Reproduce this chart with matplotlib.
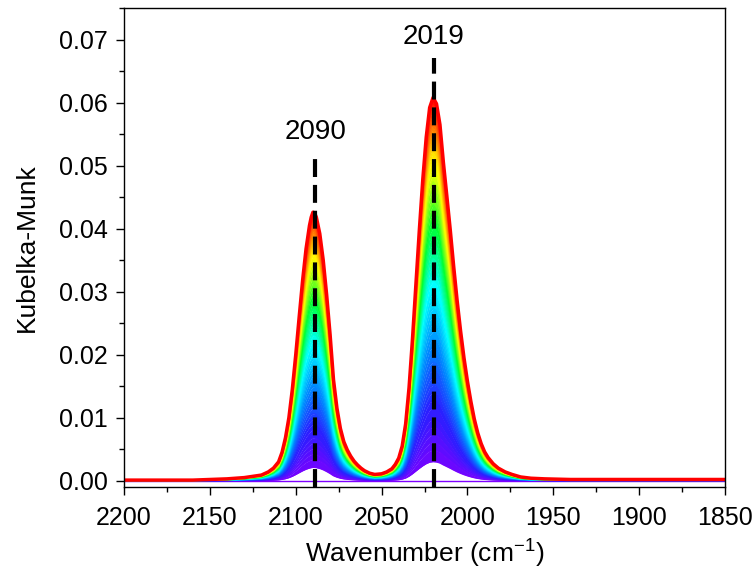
import numpy as np
import matplotlib
matplotlib.use("Agg")
import matplotlib.pyplot as plt
from matplotlib.colors import LinearSegmentedColormap
from matplotlib.ticker import MultipleLocator, FormatStrFormatter

# final (most intense) spectrum
wavenumber = [2200, 2180, 2160, 2150, 2140, 2130, 2125, 2120, 2116, 2113,
              2110, 2108, 2106, 2104, 2102, 2100, 2098, 2096, 2094, 2092,
              2091, 2090, 2089, 2088, 2086, 2084, 2082, 2080, 2078, 2076,
              2074, 2072, 2070, 2068, 2066, 2064, 2062, 2060, 2057, 2054,
              2050, 2047, 2044, 2042, 2040, 2038, 2036, 2034, 2032, 2030,
              2028, 2026, 2024, 2022, 2020, 2018, 2016, 2014, 2012, 2010,
              2008, 2006, 2004, 2002, 2000, 1998, 1996, 1994, 1992, 1990,
              1988, 1985, 1982, 1978, 1974, 1969, 1963, 1955, 1940, 1900,
              1850]
km_final = [0.0001, 0.0001, 0.0001, 0.0002, 0.0003, 0.0005, 0.0007, 0.0009, 0.0014, 0.0020,
            0.0030, 0.0045, 0.0068, 0.0100, 0.0145, 0.0200, 0.0260, 0.0318, 0.0368, 0.0405,
            0.0418, 0.0426, 0.0425, 0.0418, 0.0392, 0.0350, 0.0295, 0.0232, 0.0160, 0.0115,
            0.0083, 0.0062, 0.0049, 0.0039, 0.0031, 0.0025, 0.0020, 0.0016, 0.0012, 0.0010,
            0.0011, 0.0014, 0.0019, 0.0026, 0.0036, 0.0055, 0.0090, 0.0148, 0.0225, 0.0312,
            0.0398, 0.0478, 0.0545, 0.0592, 0.0608, 0.0598, 0.0565, 0.0505, 0.0452, 0.0398,
            0.0340, 0.0286, 0.0238, 0.0195, 0.0158, 0.0126, 0.0098, 0.0076, 0.0059, 0.0046,
            0.0037, 0.0027, 0.0020, 0.0014, 0.0010, 0.0006, 0.0004, 0.0003, 0.0002, 0.0002,
            0.0002]

# relative intensity of each recorded spectrum (first -> last)
growth = [0.0, 0.05, 0.08, 0.10, 0.12, 0.14, 0.16, 0.19, 0.21, 0.23,
          0.25, 0.27, 0.29, 0.31, 0.33, 0.35, 0.37, 0.39, 0.41, 0.43,
          0.45, 0.47, 0.49, 0.52, 0.54, 0.56, 0.58, 0.60, 0.62, 0.64,
          0.66, 0.68, 0.70, 0.72, 0.74, 0.76, 0.78, 0.80, 0.82, 0.84,
          0.855, 0.87, 0.88, 0.89, 0.90, 0.91, 0.92, 0.93, 0.94, 0.95,
          0.96, 0.97, 0.98, 0.99, 1.0]

peak_pos = [2088.5, 2019.5]
peak_top = [0.052, 0.067]
peak_labels = ["2090", "2019"]

plt.rcParams['font.family'] = ['Liberation Sans', 'DejaVu Sans']
plt.rcParams['mathtext.fontset'] = 'custom'
plt.rcParams['mathtext.rm'] = 'Liberation Sans'

cmap = LinearSegmentedColormap.from_list(
    "origin_rainbow",
    ["#7f00ff", "#2a1fff", "#0088ff", "#00ffff", "#00ff30",
     "#ffff00", "#ff8000", "#ff0000"])

x = np.array(wavenumber)
yf = np.array(km_final)
n = len(growth)

fig = plt.figure(figsize=(7.52, 5.73), dpi=100)
ax = fig.add_axes([0.165, 0.15, 0.799, 0.836])

prev = None
for i, g in enumerate(growth):
    c = cmap(i / (n - 1))
    y = g * yf
    if prev is not None and i >= 2:
        ax.fill_between(x, prev, y, color=c, lw=0)
    lw = 2.5 if i == n - 1 else 1.0
    ax.plot(x, y, color=c, lw=lw)
    prev = y

# dashed peak markers
for p, top, lab in zip(peak_pos, peak_top, peak_labels):
    ax.plot([p, p], [-0.001, top], color='k', lw=3, ls=(0, (4.3, 1.9)),
            clip_on=False, zorder=5)
    ax.text(p, top + 0.0013, lab, ha='center', va='bottom', fontsize=20)

ax.set_xlim(2200, 1850)
ax.set_ylim(-0.001, 0.075)
ax.xaxis.set_major_locator(MultipleLocator(50))
ax.xaxis.set_minor_locator(MultipleLocator(25))
ax.yaxis.set_major_locator(MultipleLocator(0.01))
ax.yaxis.set_minor_locator(MultipleLocator(0.005))
ax.yaxis.set_major_formatter(FormatStrFormatter('%.2f'))
ax.tick_params(which='major', direction='out', length=6, width=1, labelsize=18)
ax.tick_params(axis='x', which='major', pad=8)
ax.tick_params(axis='y', which='major', pad=6)
ax.tick_params(which='minor', direction='out', length=3.5, width=1)
for s in ax.spines.values():
    s.set_linewidth(1)

ax.set_xlabel('Wavenumber (cm$^{\\mathregular{-1}}$)', fontsize=19, labelpad=4)
ax.set_ylabel('Kubelka-Munk', fontsize=19, labelpad=14)

fig.savefig('out.png', dpi=100)
